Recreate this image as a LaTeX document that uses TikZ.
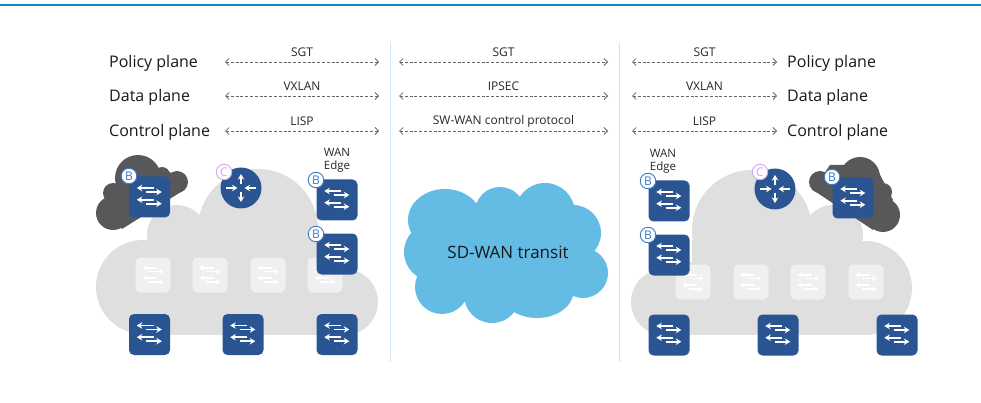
\documentclass[tikz,border=0pt]{standalone}
\usepackage{fontspec}
\setmainfont{Open Sans}
\usetikzlibrary{%
  arrows.meta,%
  positioning,% wg. " of "
  calc
}
\definecolor{swblue}{HTML}{2B5592}
\definecolor{cloudgrey}{HTML}{DFDFDF}
\definecolor{darkcloud}{HTML}{58585A}
\definecolor{transit}{HTML}{64BBE3}
\definecolor{topline}{HTML}{0D85C4}
\definecolor{sepline}{HTML}{CFE4F2}
\definecolor{badgeblue}{HTML}{3A7CC4}
\definecolor{badgepink}{HTML}{D5A6F2}
\tikzset{
  swbox/.style={fill=swblue,rounded corners=5pt,minimum size=41pt,inner sep=0pt},
  fadedbox/.style={fill=white!94!black,rounded corners=5pt,minimum size=35pt,inner sep=0pt},
  router/.style={circle,fill=swblue,minimum size=41pt,inner sep=0pt},
  swarrow/.style={-{Stealth[length=5.5pt,width=6.5pt]},white,line width=1.8pt},
  fadedarrow/.style={-{Stealth[length=4.5pt,width=5.5pt]},white,line width=1.6pt},
  badge/.style={circle,draw=badgeblue,fill=white,line width=0.9pt,minimum size=15.5pt,inner sep=0pt,text=badgeblue,font=\fontsize{12}{12}\selectfont},
  planelabel/.style={font=\fontsize{16}{16}\selectfont,anchor=west,inner sep=0pt,text=black!90},
  protolabel/.style={font=\fontsize{12}{12}\selectfont,inner sep=0pt,text=black!85},
  protoline/.style={{Straight Barb[length=3.5pt,width=7pt]}-{Straight Barb[length=3.5pt,width=7pt]},dash pattern=on 3pt off 1.8pt,draw=black!60,line width=0.8pt},
}
\begin{document}
\begin{tikzpicture}[x=1pt,y=-1pt]
\useasboundingbox (0,0) rectangle (981,403);

\draw[topline,line width=2pt] (0,5) -- (981,5);
\coordinate (sepatop) at (390,43);
\coordinate (sepabot) at (390,362);
\coordinate (sepbtop) at (619,43);
\coordinate (sepbbot) at (619,362);
\draw[sepline,line width=1pt] (sepatop) -- (sepabot);
\draw[sepline,line width=1pt] (sepbtop) -- (sepbbot);

% plane labels
\node[planelabel] (pl) at (109,63) {Policy plane};
\node[planelabel] (dl) at (109,97) {Data plane};
\node[planelabel] (cl) at (109,132) {Control plane};
\node[planelabel] (pr) at (787,63) {Policy plane};
\node[planelabel] (dr) at (787,97) {Data plane};
\node[planelabel] (cr) at (787,132) {Control plane};

% protocol arrows
\foreach \n/\xa/\xb/\y/\lab in {
  la/225/379/62/SGT, lb/225/379/96/VXLAN, lc/225/379/131/LISP,
  ma/399/608/62/SGT, mb/399/608/96/IPSEC, mc/399/608/131/SW-WAN control protocol,
  ra/632/777/62/SGT, rb/632/777/96/VXLAN, rc/632/777/131/LISP} {
  \coordinate (\n a) at (\xa,\y);
  \coordinate (\n b) at (\xb,\y);
  \draw[protoline] (\n a) -- (\n b);
  \node[protolabel] (\n t) at ($(\n a)!0.5!(\n b)+(0,-10)$) {\lab};
}

% grey clouds
\fill[cloudgrey] (143,287) circle (47) (345,302) circle (33)
  (258,229) circle (60) (177,235) circle (30);
\fill[cloudgrey] (143,262) rectangle (345,335);
\fill[cloudgrey] (177,240) rectangle (318,280);
\fill[cloudgrey] (664,302) circle (33) (865,288) circle (47)
  (752,230) circle (60) (833,235) circle (30);
\fill[cloudgrey] (664,262) rectangle (865,335);
\fill[cloudgrey] (692,240) rectangle (833,280);

% dark clouds
\fill[darkcloud] (138,178) circle (23) (113,213) circle (17) (177,182) circle (11)
  (113,193) circle (10) (162,175) circle (8);
\fill[darkcloud] (122,229) -- (105,200) -- (125,170) -- (170,172) -- (184,190) -- cycle;
\fill[darkcloud] (860,177) circle (20) (883,215) circle (17) (820,182) circle (11)
  (883,192) circle (9);
\fill[darkcloud] (813,190) -- (830,165) -- (875,165) -- (893,200) -- (873,230) -- cycle;

% transit cloud
\fill[transit] (445,220) ellipse (37 and 31) (500,212) circle (25) (545,213) circle (30)
  (573,233) circle (28) (583,273) circle (25) (537,290) ellipse (37 and 28)
  (492,295) circle (28) (442,287) circle (27) (433,252) circle (29);
\fill[transit] (445,215) rectangle (575,290);
\node[font=\fontsize{17}{17}\selectfont,inner sep=0pt,text=black!90] (sdwan) at (508,252) {SD-WAN transit};

% faded switches
\foreach \n/\x/\y in {fa/153/275, fb/210/275, fc/268/275, fd/325/275,
  fe/693/282, ff/751/282, fg/808/282, fh/866/282} {
  \node[fadedbox] (\n) at (\x,\y) {};
  \draw[fadedarrow] ([shift={(4,-7)}]\n.center) -- ([shift={(-10.5,-7)}]\n.center);
  \draw[fadedarrow] ([shift={(-4,-3.5)}]\n.center) -- ([shift={(10.5,-3.5)}]\n.center);
  \draw[fadedarrow] ([shift={(4,3)}]\n.center) -- ([shift={(-10.5,3)}]\n.center);
  \draw[fadedarrow] ([shift={(-4,7)}]\n.center) -- ([shift={(10.5,7)}]\n.center);
}

% switches
\foreach \n/\x/\y in {swa/149.5/197, swb/337/200, swc/337/254, swd/149.5/334.5,
  swe/243/334.5, swf/337/334.5, swg/669/201, swh/669/255, swi/669/335,
  swj/778/335, swk/897/335, swl/853/198} {
  \node[swbox] (\n) at (\x,\y) {};
  \draw[swarrow] ([shift={(4,-9)}]\n.center) -- ([shift={(-12.7,-9)}]\n.center);
  \draw[swarrow] ([shift={(-3.5,-5)}]\n.center) -- ([shift={(12.3,-5)}]\n.center);
  \draw[swarrow] ([shift={(4,2.7)}]\n.center) -- ([shift={(-12.7,2.7)}]\n.center);
  \draw[swarrow] ([shift={(-3.5,6.7)}]\n.center) -- ([shift={(12.3,6.7)}]\n.center);
}

% routers
\foreach \n/\x/\y in {rta/241/188, rtb/775/189} {
  \node[router] (\n) at (\x,\y) {};
  \draw[swarrow] ([yshift=-4pt]\n.center) -- ([yshift=-14pt]\n.center);
  \draw[swarrow] ([yshift=3.5pt]\n.center) -- ([yshift=14pt]\n.center);
  \draw[swarrow] ([xshift=-15pt]\n.center) -- ([xshift=-3.5pt]\n.center);
  \draw[swarrow] ([xshift=15pt]\n.center) -- ([xshift=3.5pt]\n.center);
}

% badges
\foreach \n/\x/\y in {ba/129/176, bb/316/180, bc/316/234, bd/648/181, be/648/235, bf/832/177} {
  \node[badge] (\n) at (\x,\y) {B};
}
\node[badge,draw=badgepink,text=badgepink] (ca) at (224,172) {C};
\node[badge,draw=badgepink,text=badgepink] (cb) at (760,172) {C};

\node[font=\fontsize{11.5}{13.5}\selectfont,align=center,inner sep=0pt,text=black!85] (wl) at (337,160.5) {WAN\\Edge};
\node[font=\fontsize{11.5}{13.5}\selectfont,align=center,inner sep=0pt,text=black!85] (wr) at (663,161.5) {WAN\\Edge};
\end{tikzpicture}
\end{document}
